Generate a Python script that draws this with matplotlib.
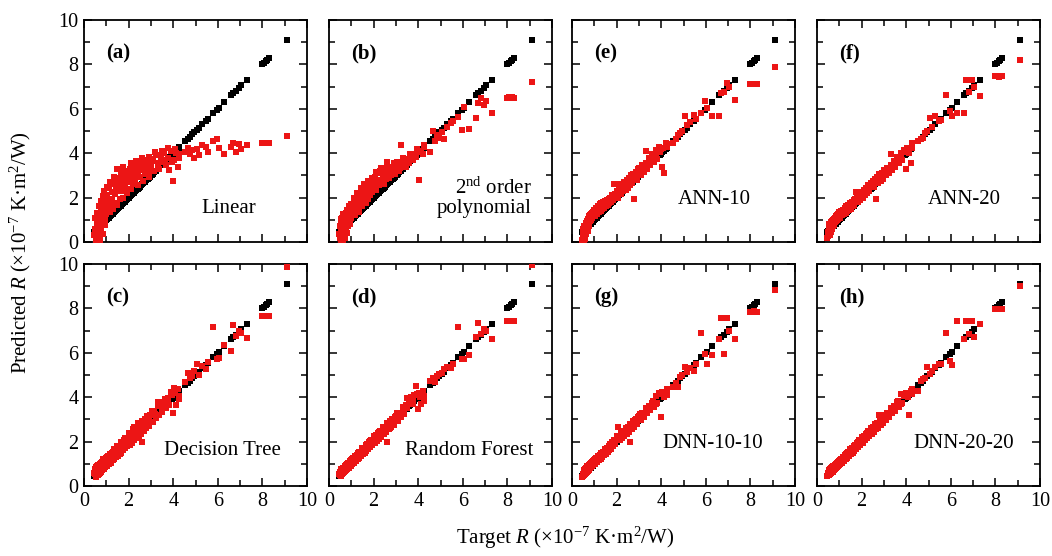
import matplotlib
matplotlib.use('Agg')
import matplotlib.pyplot as plt
from matplotlib.ticker import MultipleLocator

plt.rcParams['font.family'] = ['Liberation Serif', 'DejaVu Serif']
plt.rcParams['mathtext.fontset'] = 'custom'
plt.rcParams['mathtext.rm'] = 'Liberation Serif'
plt.rcParams['mathtext.it'] = 'Liberation Serif:italic'
plt.rcParams['mathtext.bf'] = 'Liberation Serif:bold'

# ---------------- data (x 1e-7 K m^2/W) ----------------
target = [
    # block A
    0.45, 0.52, 0.54, 0.56, 0.58, 0.60, 0.62, 0.64, 0.66, 0.68, 0.70, 0.72,
    0.74, 0.76, 0.78, 0.80, 0.82, 0.84, 0.86, 0.88, 0.90, 0.92, 0.95, 0.98,
    1.00, 1.04, 1.08, 1.12, 1.16, 1.20, 1.24, 1.28, 1.32, 1.36, 1.40, 1.44,
    1.48, 1.52, 1.56, 1.60, 1.64, 1.68, 1.72, 1.76, 1.80, 1.85, 1.90, 1.95,
    2.00, 2.05, 2.10, 2.15, 2.20, 2.25, 2.30, 2.35, 2.40, 2.45,
    2.50, 2.55, 2.60, 2.65, 2.70, 2.75, 2.80, 2.85, 2.90, 2.95,
    3.00, 3.08, 3.15, 3.22, 3.30, 3.38, 3.45, 3.52, 3.60,
    3.68, 3.75, 3.82, 3.90, 3.97, 4.05, 4.12, 4.20, 4.28,
    4.55, 4.65, 4.75, 4.85, 4.95, 5.05, 5.15, 5.30, 5.45, 5.55,
    5.80, 5.95, 6.05, 6.30, 6.60, 6.70, 6.80, 6.95, 7.05, 7.30,
    8.00, 8.08, 8.15, 8.22, 8.30, 9.10,
    # block B
    0.48, 0.51, 0.55, 0.59, 0.63, 0.67, 0.71, 0.75, 0.79, 0.83, 0.87, 0.91, 0.94, 0.97,
    1.02, 1.10, 1.18, 1.26, 1.34, 1.42, 1.50, 1.58, 1.66, 1.74, 1.82, 1.92,
    2.02, 2.12, 2.22, 2.32, 2.42, 2.52, 2.62, 2.72, 2.82, 2.92,
    3.04, 3.18, 3.34, 3.48, 3.64, 3.78, 3.94, 4.08, 4.24,
]

pred_linear = [
    0.30, 0.05, 0.55, 0.15, 0.80, 0.02, 0.45, 1.00, 0.25, 0.70, 1.20, 0.10,
    0.90, 1.45, 0.55, 1.10, 1.65, 0.35, 1.30, 0.85, 1.75, 1.05, 1.50, 2.00,
    1.25, 2.10, 1.55, 2.45, 1.35, 1.90, 2.25, 1.50, 2.60, 1.75, 2.15, 2.75,
    1.65, 2.40, 2.90, 1.95, 3.10, 2.30, 2.65, 2.00, 2.85, 2.45, 3.20, 2.20,
    2.70, 3.30, 2.40, 3.00, 2.60, 3.40, 2.85, 3.15, 2.55, 3.50,
    2.95, 3.25, 3.60, 2.75, 3.35, 3.05, 3.70, 3.20, 2.95, 3.45,
    3.40, 3.75, 3.20, 3.90, 3.55, 3.30, 3.85, 3.60, 4.00,
    3.45, 3.80, 3.25, 4.10, 2.75, 3.70, 4.00, 3.40, 3.95,
    4.05, 4.25, 3.95, 4.15, 3.80, 4.20, 3.90, 4.35, 4.30, 4.05,
    4.55, 4.65, 4.25, 3.95, 4.30, 4.45, 4.05, 4.40, 4.20, 4.35,
    4.45, 4.48, 4.45, 4.48, 4.47, 4.78,
    0.60, 1.10, 0.20, 1.30, 0.70, 1.60, 0.40, 1.85, 1.00, 2.05, 1.40, 2.30, 0.75, 1.70,
    2.50, 1.80, 2.70, 1.95, 2.95, 2.35, 3.30, 2.50, 2.70, 3.40, 2.60, 3.00,
    2.90, 3.55, 3.10, 3.65, 3.00, 3.40, 3.80, 3.15, 3.50, 3.85,
    3.65, 4.05, 3.40, 4.10, 3.70, 4.25, 3.60, 4.20, 3.80,
]

pred_poly2 = [
    0.35, 0.90, 0.10, 0.60, 1.10, 0.25, 0.75, 0.05, 1.20, 0.50, 0.85, 0.20,
    1.00, 0.65, 1.30, 0.40, 0.95, 1.15, 0.70, 1.40, 0.90, 1.25, 0.80, 1.45,
    1.10, 1.60, 1.30, 1.85, 1.20, 1.70, 1.45, 2.00, 1.55, 1.35, 1.90, 2.15,
    1.60, 2.05, 1.80, 2.35, 1.75, 2.20, 2.50, 1.95, 2.40, 2.10, 2.65, 2.25,
    2.55, 2.95, 2.35, 2.80, 3.10, 2.55, 3.20, 2.75, 3.00, 2.60,
    3.30, 2.85, 3.60, 3.05, 2.90, 3.25, 3.00, 3.40, 3.15, 3.05,
    3.30, 3.55, 3.20, 4.35, 3.45, 3.60, 3.40, 3.75, 3.55,
    3.85, 3.70, 3.95, 3.85, 4.05, 2.80, 4.10, 3.95, 4.30,
    4.05, 5.00, 4.55, 4.80, 4.70, 4.95, 4.65, 5.20, 5.35, 5.45,
    5.65, 5.05, 6.10, 5.10, 5.60, 6.25, 6.50, 6.15, 6.35, 5.80,
    6.50, 6.52, 6.50, 6.53, 6.50, 7.20,
    0.70, 0.20, 1.05, 0.45, 1.25, 0.30, 1.10, 0.55, 1.45, 0.75, 1.20, 1.60, 1.00, 1.70,
    1.45, 2.00, 1.55, 2.20, 1.80, 2.45, 1.90, 2.60, 2.10, 2.75, 2.25, 2.90,
    2.40, 3.15, 2.70, 3.35, 2.85, 3.10, 3.45, 3.20, 3.30, 3.55,
    3.60, 3.35, 3.80, 3.65, 3.95, 3.90, 4.20, 4.10, 4.35,
]

pred_tree = [
    0.60, 0.40, 0.75, 0.45, 0.70, 0.90, 0.50, 0.85, 0.55, 0.95, 0.60, 1.00,
    0.65, 0.95, 1.05, 0.70, 1.10, 0.80, 1.15, 0.75, 1.10, 1.20, 0.85, 1.25,
    1.20, 0.90, 1.35, 1.00, 1.40, 1.05, 1.50, 1.15, 1.55, 1.20, 1.65, 1.30,
    1.70, 1.35, 1.80, 1.45, 1.90, 1.50, 1.95, 1.60, 2.05, 1.70, 2.15, 1.80,
    2.30, 1.85, 2.40, 1.95, 2.55, 2.05, 2.65, 2.15, 2.75, 2.25,
    2.85, 2.35, 2.00, 2.95, 2.50, 3.00, 2.60, 3.10, 2.70, 3.20,
    3.20, 2.90, 3.35, 3.05, 3.80, 3.20, 3.65, 3.35, 3.80,
    3.50, 3.95, 3.65, 4.25, 3.30, 4.40, 3.65, 4.35, 4.05,
    4.70, 5.10, 4.85, 4.95, 5.20, 5.50, 5.00, 5.40, 5.25, 5.60,
    7.15, 5.70, 5.75, 6.35, 6.10, 7.25, 6.75, 7.00, 6.90, 6.65,
    7.65, 7.65, 7.67, 7.65, 7.66, 9.88,
    0.75, 0.55, 0.85, 0.60, 0.95, 0.70, 0.95, 0.80, 1.05, 0.90, 1.20, 0.95, 1.20, 1.00,
    1.30, 1.20, 1.45, 1.30, 1.65, 1.50, 1.80, 1.60, 2.00, 1.80, 2.15, 2.00,
    2.40, 2.20, 2.65, 2.40, 2.85, 2.55, 2.95, 2.75, 3.15, 2.95,
    3.40, 3.25, 3.60, 3.55, 3.90, 3.80, 4.10, 4.20, 3.90,
]

pred_forest = [
    0.55, 0.45, 0.68, 0.50, 0.72, 0.55, 0.78, 0.60, 0.82, 0.62, 0.85, 0.68,
    0.90, 0.72, 0.95, 0.75, 1.00, 0.80, 1.02, 0.82, 1.05, 0.88, 1.10, 0.92,
    1.15, 0.98, 1.25, 1.05, 1.32, 1.12, 1.40, 1.20, 1.48, 1.28, 1.55, 1.35,
    1.65, 1.42, 1.72, 1.50, 1.80, 1.58, 1.88, 1.65, 1.98, 1.75, 2.08, 1.85,
    2.18, 1.92, 2.28, 2.02, 2.38, 2.12, 2.50, 2.22, 2.60, 2.32,
    2.68, 2.42, 2.00, 2.80, 2.55, 2.92, 2.65, 3.02, 2.75, 3.12,
    3.15, 2.95, 3.30, 3.10, 3.45, 3.25, 3.65, 3.95, 3.75,
    4.00, 3.90, 4.10, 4.50, 3.45, 4.20, 3.70, 4.30, 4.05,
    4.75, 4.87, 4.70, 4.95, 5.05, 5.10, 5.25, 5.35, 5.30, 5.50,
    7.16, 5.70, 5.70, 5.88, 6.70, 7.36, 6.85, 7.05, 7.00, 6.60,
    7.44, 7.44, 7.45, 7.44, 7.44, 9.95,
    0.65, 0.50, 0.75, 0.58, 0.80, 0.65, 0.88, 0.70, 0.95, 0.80, 1.05, 0.85, 1.12, 0.95,
    1.22, 1.05, 1.35, 1.20, 1.52, 1.38, 1.70, 1.52, 1.85, 1.68, 2.02, 1.85,
    2.25, 2.05, 2.45, 2.25, 2.65, 2.45, 2.85, 2.62, 3.00, 2.85,
    3.30, 3.15, 3.55, 3.50, 3.95, 3.70, 4.15, 4.00, 3.85,
]

pred_ann10 = [
    0.10, 0.45, 0.25, 0.70, 0.15, 0.55, 0.85, 0.35, 0.75, 0.95, 0.50, 1.05,
    0.80, 1.15, 0.70, 1.20, 0.95, 1.25, 1.00, 1.30, 1.10, 1.35, 1.15, 1.40,
    1.45, 1.15, 1.55, 1.25, 1.60, 1.35, 1.70, 1.40, 1.75, 1.50, 1.80, 1.55,
    1.85, 1.60, 1.90, 1.65, 1.95, 1.75, 2.00, 1.80, 2.10, 1.90, 2.60, 2.00,
    2.30, 2.00, 2.40, 2.60, 2.15, 2.60, 2.30, 2.70, 2.35, 2.80,
    2.45, 2.90, 2.55, 3.00, 2.65, 3.05, 1.95, 3.15, 2.80, 3.30,
    3.35, 3.00, 3.45, 3.15, 4.10, 3.30, 3.80, 3.45, 3.95,
    3.60, 4.15, 3.75, 4.30, 4.20, 3.40, 3.12, 4.45, 4.40,
    4.45, 4.62, 4.80, 4.90, 5.00, 5.67, 5.25, 5.40, 5.74, 5.55,
    5.80, 6.34, 6.05, 5.67, 5.67, 6.70, 6.75, 7.16, 7.00, 6.41,
    7.13, 7.13, 7.12, 7.13, 7.13, 7.90,
    0.30, 0.60, 0.05, 0.40, 0.65, 0.60, 0.85, 0.90, 1.05, 1.10, 1.25, 1.20, 1.30, 1.25,
    1.35, 1.50, 1.45, 1.60, 1.60, 1.75, 1.70, 1.85, 1.85, 2.00, 1.95, 2.15,
    2.20, 2.35, 2.45, 2.55, 2.60, 2.75, 2.85, 2.90, 3.05, 3.10,
    3.20, 3.35, 3.55, 3.60, 3.80, 3.90, 4.05, 4.25, 4.30,
]

pred_ann20 = [
    0.20, 0.55, 0.35, 0.80, 0.30, 0.70, 0.45, 0.90, 0.60, 0.95, 0.70, 1.00,
    0.75, 1.05, 0.85, 1.10, 0.90, 1.15, 0.95, 1.20, 1.00, 1.25, 1.05, 1.30,
    1.35, 1.10, 1.40, 1.20, 1.45, 1.25, 1.55, 1.30, 1.60, 1.40, 1.65, 1.45,
    1.75, 1.50, 1.80, 1.60, 1.90, 1.65, 1.95, 2.23, 2.00, 1.80, 2.10, 1.90,
    2.25, 2.00, 2.35, 2.10, 2.45, 2.20, 2.55, 2.30, 2.65, 2.53,
    2.75, 2.50, 2.85, 1.93, 2.95, 2.65, 3.05, 2.75, 3.10, 2.85,
    3.25, 3.00, 3.35, 3.10, 3.95, 3.25, 3.65, 3.40, 3.85,
    3.55, 4.00, 3.70, 4.15, 3.27, 4.25, 4.00, 3.57, 4.47,
    4.55, 4.62, 4.70, 4.92, 5.00, 5.60, 5.20, 5.67, 5.45, 5.50,
    6.64, 5.90, 5.67, 5.81, 5.81, 7.28, 6.75, 7.28, 7.00, 6.56,
    7.46, 7.46, 7.45, 7.46, 7.46, 8.20,
    0.45, 0.25, 0.60, 0.50, 0.75, 0.70, 0.90, 0.85, 1.00, 0.95, 1.10, 1.05, 1.20, 1.15,
    1.25, 1.35, 1.35, 1.45, 1.50, 1.60, 1.65, 1.75, 1.80, 1.90, 2.05, 2.05,
    2.15, 2.30, 2.35, 2.50, 2.55, 2.70, 2.75, 2.90, 2.95, 3.05,
    3.15, 3.35, 3.45, 3.65, 3.75, 3.95, 4.05, 4.15, 4.25,
]

pred_dnn10 = [
    0.40, 0.65, 0.48, 0.72, 0.52, 0.78, 0.58, 0.82, 0.62, 0.88, 0.68, 0.92,
    0.72, 0.95, 0.75, 1.00, 0.80, 1.05, 0.85, 1.08, 0.90, 1.12, 0.95, 1.18,
    1.15, 1.00, 1.25, 1.08, 1.32, 1.15, 1.40, 1.22, 1.48, 1.30, 1.55, 1.38,
    1.62, 1.45, 1.72, 1.52, 1.80, 1.60, 1.88, 1.68, 1.98, 1.78, 2.08, 1.88,
    2.15, 2.66, 2.25, 2.05, 2.38, 2.15, 2.48, 2.25, 2.58, 2.35,
    2.68, 2.45, 1.99, 2.80, 2.58, 2.92, 2.68, 3.02, 2.78, 3.12,
    3.15, 2.98, 3.30, 3.12, 3.45, 3.28, 3.60, 3.42, 3.75,
    3.58, 4.05, 3.75, 4.20, 3.10, 4.25, 4.00, 4.20, 4.35,
    4.45, 4.65, 4.45, 4.90, 5.00, 5.37, 5.15, 5.30, 5.20, 5.50,
    6.88, 5.95, 5.50, 5.90, 6.60, 7.55, 5.95, 7.55, 7.00, 6.62,
    7.86, 7.86, 7.87, 7.86, 7.86, 8.82,
    0.55, 0.45, 0.62, 0.70, 0.65, 0.80, 0.75, 0.90, 0.82, 0.98, 0.92, 1.05, 0.98, 1.10,
    1.22, 1.12, 1.35, 1.25, 1.50, 1.40, 1.68, 1.55, 1.82, 1.70, 1.95, 2.05,
    2.25, 2.10, 2.42, 2.30, 2.62, 2.50, 2.80, 2.68, 2.98, 2.90,
    3.25, 3.15, 3.50, 3.45, 3.85, 3.70, 4.15, 4.20, 4.10,
]

pred_dnn20 = [
    0.45, 0.62, 0.48, 0.70, 0.55, 0.75, 0.58, 0.80, 0.62, 0.85, 0.65, 0.90,
    0.70, 0.92, 0.74, 0.96, 0.78, 1.00, 0.82, 1.05, 0.86, 1.08, 0.92, 1.14,
    1.12, 0.98, 1.22, 1.05, 1.30, 1.12, 1.38, 1.20, 1.46, 1.28, 1.54, 1.35,
    1.62, 1.42, 1.70, 1.50, 1.78, 1.58, 1.86, 1.66, 1.95, 1.75, 2.05, 1.85,
    2.15, 1.95, 2.25, 2.05, 2.36, 2.15, 2.46, 2.25, 2.56, 2.35,
    2.66, 2.45, 2.76, 2.55, 2.86, 2.65, 3.20, 2.75, 3.05, 2.85,
    3.15, 2.98, 3.30, 3.12, 3.45, 3.28, 3.62, 3.42, 3.78,
    3.58, 4.16, 3.72, 4.05, 4.20, 4.10, 3.18, 4.30, 4.35,
    4.30, 4.75, 4.80, 4.85, 5.35, 5.05, 5.20, 5.35, 5.50, 5.50,
    6.88, 5.65, 5.43, 7.41, 6.60, 7.41, 6.85, 7.41, 6.70, 7.30,
    7.97, 7.97, 7.98, 7.97, 7.97, 9.01,
    0.58, 0.48, 0.65, 0.55, 0.72, 0.62, 0.82, 0.72, 0.90, 0.80, 0.98, 0.88, 1.05, 0.95,
    1.18, 1.05, 1.32, 1.20, 1.48, 1.35, 1.65, 1.50, 1.80, 1.65, 1.98, 1.85,
    2.20, 2.05, 2.40, 2.25, 2.60, 2.45, 2.80, 2.62, 2.98, 2.82,
    3.22, 3.10, 3.50, 3.40, 3.82, 3.70, 4.12, 4.00, 4.15,
]

# panel letter, model name, predictions  (grid order: row 0 then row 1)
panels = [
    ("(a)", "Linear", pred_linear),
    ("(b)", "2$^{\\mathrm{nd}}$ order\npolynomial", pred_poly2),
    ("(e)", "ANN-10", pred_ann10),
    ("(f)", "ANN-20", pred_ann20),
    ("(c)", "Decision Tree", pred_tree),
    ("(d)", "Random Forest", pred_forest),
    ("(g)", "DNN-10-10", pred_dnn10),
    ("(h)", "DNN-20-20", pred_dnn20),
]
ticks = [0, 2, 4, 6, 8, 10]

# ---------------- figure ----------------
W, H = 1052, 556
fig = plt.figure(figsize=(W / 100, H / 100), dpi=100)
lefts = [84, 329, 572, 817]
tops = [20, 264]
aw, ah = 223, 222

name_pos = [(0.65, 0.15), (0.91, 0.20), (0.64, 0.19), (0.66, 0.19),
            (0.62, 0.16), (0.63, 0.16), (0.63, 0.19), (0.66, 0.19)]

for i, (letter, name, pred) in enumerate(panels):
    r, c = divmod(i, 4)
    ax = fig.add_axes([lefts[c] / W, 1 - (tops[r] + ah) / H, aw / W, ah / H])
    ax.scatter(target, target, marker='s', s=18, c='black', linewidths=0, zorder=2)
    ax.scatter(target, pred, marker='s', s=14, c='#ec1515', linewidths=0, zorder=3)
    ax.set_xlim(0, 10)
    ax.set_ylim(0, 10)
    ax.set_xticks(ticks)
    ax.set_yticks(ticks)
    ax.xaxis.set_minor_locator(MultipleLocator(1))
    ax.yaxis.set_minor_locator(MultipleLocator(1))
    ax.tick_params(which='both', direction='in', top=True, right=True,
                   width=1.1, labelsize=14.5, pad=4)
    ax.tick_params(which='major', length=6)
    ax.tick_params(which='minor', length=4)
    if r == 0:
        ax.tick_params(labelbottom=False)
    if c != 0:
        ax.tick_params(labelleft=False)
    for sp in ax.spines.values():
        sp.set_linewidth(1.3)
    ax.text(0.10, 0.85, letter, transform=ax.transAxes, fontsize=15,
            fontweight='bold', ha='left', va='center')
    nx, ny = name_pos[i]
    if i == 1:
        ax.text(nx, ny, name, transform=ax.transAxes, fontsize=15,
                ha='right', va='center', linespacing=1.0)
    else:
        ax.text(nx, ny, name, transform=ax.transAxes, fontsize=15,
                ha='center', va='center')

fig.text(20 / W, 1 - 253 / H, 'Predicted $R$ (×10$^{-7}$ K·m$^{2}$/W)',
         rotation=90, ha='center', va='center', fontsize=15)
fig.text(565 / W, 1 - 538 / H, 'Target $R$ (×10$^{-7}$ K·m$^{2}$/W)',
         ha='center', va='center', fontsize=15)

fig.savefig('out.png', dpi=100)
